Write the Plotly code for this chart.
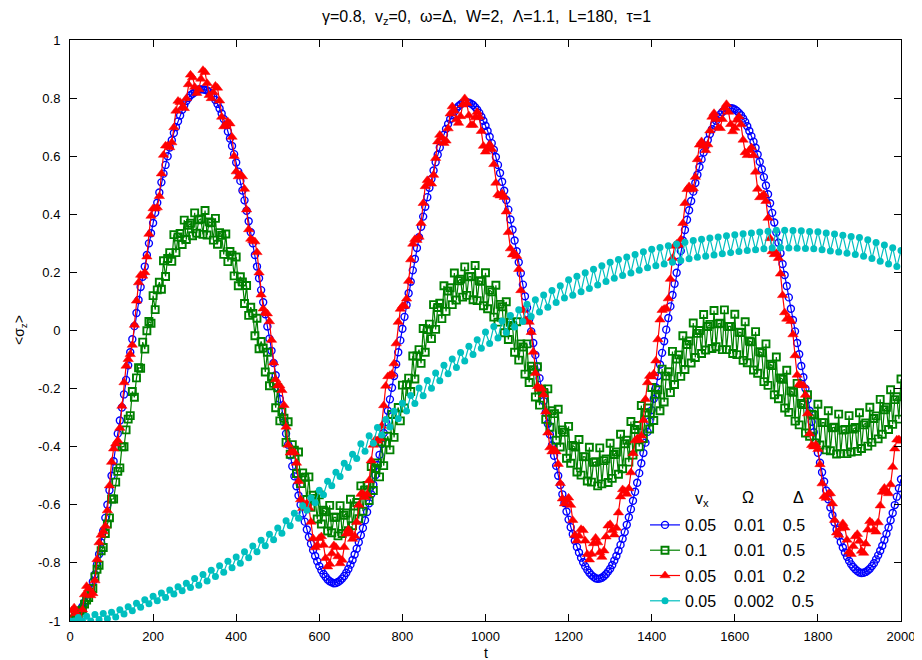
import plotly.graph_objects as go

# sampling grids (t)
T5 = list(range(0, 2001, 5))
T10 = list(range(0, 2001, 10))

# <sigma_z> for vx=0.05, Omega=0.01, Delta=0.5 (blue circles)
BLUE = [
    -1.000, -0.998, -0.99, -0.98, -0.97, -0.96, -0.95, -0.935, -0.92, -0.905,
    -0.89, -0.865, -0.84, -0.805, -0.77, -0.73, -0.69, -0.645, -0.60, -0.55,
    -0.50, -0.45, -0.40, -0.355, -0.31, -0.265, -0.22, -0.17, -0.12, -0.075,
    -0.03, 0.015, 0.06, 0.105, 0.15, 0.185, 0.22, 0.26, 0.30, 0.335,
    0.37, 0.405, 0.44, 0.475, 0.51, 0.54, 0.57, 0.60, 0.63, 0.655,
    0.68, 0.70, 0.72, 0.74, 0.76, 0.775, 0.79, 0.80, 0.81, 0.815,
    0.82, 0.825, 0.83, 0.83,
    0.83, 0.829, 0.826, 0.821, 0.813, 0.804, 0.793, 0.780, 0.764, 0.747,
    0.728, 0.708, 0.685, 0.661, 0.635, 0.607, 0.578, 0.547, 0.515, 0.482,
    0.448, 0.412, 0.376, 0.338, 0.300, 0.260, 0.220, 0.180, 0.139, 0.097,
    0.056, 0.014, -0.028, -0.070, -0.112, -0.154, -0.195, -0.236, -0.276, -0.316,
    -0.355, -0.393, -0.430, -0.467, -0.502, -0.536, -0.568, -0.600, -0.630, -0.658,
    -0.685, -0.711, -0.734, -0.756, -0.776, -0.794, -0.811, -0.825, -0.838, -0.848,
    -0.857, -0.863, -0.867, -0.870,
    -0.869, -0.866, -0.861, -0.854, -0.845, -0.834, -0.821, -0.806, -0.790, -0.771,
    -0.751, -0.729, -0.705, -0.680, -0.653, -0.625, -0.595, -0.564, -0.531, -0.498,
    -0.463, -0.428, -0.391, -0.353, -0.315, -0.276, -0.237, -0.197, -0.157, -0.116,
    -0.075, -0.034, 0.006, 0.047, 0.088, 0.128, 0.168, 0.207, 0.246, 0.284,
    0.321, 0.357, 0.392, 0.426, 0.459, 0.491, 0.522, 0.551, 0.579, 0.605,
    0.630, 0.653, 0.674, 0.694, 0.711, 0.727, 0.741, 0.754, 0.764, 0.772,
    0.778, 0.783, 0.785, 0.785,
    0.784, 0.781, 0.776, 0.769, 0.760, 0.749, 0.736, 0.722, 0.705, 0.687,
    0.667, 0.645, 0.622, 0.597, 0.570, 0.542, 0.512, 0.481, 0.449, 0.416,
    0.382, 0.347, 0.310, 0.273, 0.235, 0.197, 0.158, 0.118, 0.078, 0.038,
    -0.003, -0.043, -0.084, -0.124, -0.164, -0.204, -0.243, -0.282, -0.321, -0.358,
    -0.395, -0.431, -0.466, -0.500, -0.532, -0.564, -0.594, -0.623, -0.651, -0.677,
    -0.701, -0.724, -0.745, -0.764, -0.782, -0.798, -0.812, -0.824, -0.834, -0.842,
    -0.848, -0.853, -0.855,
    -0.854, -0.851, -0.846, -0.839, -0.830, -0.820, -0.807, -0.792, -0.776, -0.758,
    -0.738, -0.717, -0.694, -0.669, -0.643, -0.615, -0.586, -0.555, -0.524, -0.491,
    -0.457, -0.422, -0.386, -0.349, -0.312, -0.274, -0.235, -0.196, -0.157, -0.117,
    -0.077, -0.037, 0.003, 0.043, 0.083, 0.122, 0.161, 0.199, 0.237, 0.274,
    0.310, 0.346, 0.381, 0.414, 0.446, 0.478, 0.508, 0.536, 0.563, 0.589,
    0.613, 0.636, 0.656, 0.676, 0.693, 0.708, 0.722, 0.734, 0.744, 0.752,
    0.758, 0.763, 0.765, 0.765,
    0.764, 0.761, 0.756, 0.749, 0.741, 0.730, 0.718, 0.703, 0.687, 0.669,
    0.650, 0.629, 0.606, 0.581, 0.555, 0.528, 0.499, 0.469, 0.438, 0.405,
    0.372, 0.337, 0.302, 0.266, 0.229, 0.191, 0.153, 0.114, 0.075, 0.036,
    -0.003, -0.043, -0.082, -0.122, -0.161, -0.200, -0.238, -0.276, -0.314, -0.350,
    -0.386, -0.421, -0.455, -0.488, -0.520, -0.551, -0.581, -0.609, -0.636, -0.661,
    -0.685, -0.707, -0.728, -0.747, -0.764, -0.779, -0.793, -0.805, -0.814, -0.822,
    -0.828, -0.833, -0.835,
    -0.834, -0.831, -0.826, -0.820, -0.811, -0.801, -0.788, -0.774, -0.758, -0.741,
    -0.721, -0.700, -0.678, -0.653, -0.628, -0.601, -0.572, -0.543, -0.512,
]

# vx=0.1, Omega=0.01, Delta=0.5 (green squares)
GREEN = [
    -1.000, -0.999, -0.993, -0.986, -0.984, -0.965, -0.962, -0.942, -0.928, -0.919,
    -0.888, -0.888, -0.848, -0.822, -0.808, -0.758, -0.747, -0.699, -0.666, -0.645,
    -0.580, -0.580, -0.522, -0.485, -0.473, -0.400, -0.400, -0.342, -0.305, -0.293,
    -0.210, -0.230, -0.163, -0.128, -0.130, -0.040, -0.064, -0.001, 0.031, 0.025,
    0.120, 0.072, 0.140, 0.166, 0.142, 0.240, 0.186, 0.248, 0.268, 0.238,
    0.330, 0.268, 0.322, 0.334, 0.296, 0.380, 0.313, 0.362, 0.369, 0.326,
    0.405, 0.335, 0.381, 0.384,
    0.331, 0.413, 0.329, 0.374, 0.371, 0.311, 0.386, 0.297, 0.337, 0.328,
    0.262, 0.332, 0.237, 0.272, 0.259, 0.188, 0.253, 0.154, 0.185, 0.167,
    0.093, 0.155, 0.052, 0.080, 0.059, -0.018, 0.042, -0.063, -0.038, -0.060,
    -0.143, -0.075, -0.190, -0.159, -0.182, -0.266, -0.197, -0.311, -0.280, -0.302,
    -0.385, -0.314, -0.426, -0.393, -0.412, -0.492, -0.418, -0.527, -0.490, -0.505,
    -0.582, -0.504, -0.609, -0.567, -0.578, -0.649, -0.566, -0.666, -0.619, -0.624,
    -0.690, -0.602, -0.696, -0.643, -0.643,
    -0.707, -0.603, -0.699, -0.636, -0.628, -0.689, -0.581, -0.672, -0.604, -0.592,
    -0.648, -0.535, -0.622, -0.549, -0.533, -0.585, -0.468, -0.551, -0.475, -0.456,
    -0.504, -0.384, -0.465, -0.387, -0.364, -0.411, -0.289, -0.368, -0.288, -0.265,
    -0.311, -0.188, -0.267, -0.187, -0.164, -0.210, -0.088, -0.167, -0.088, -0.066,
    -0.113, 0.007, -0.075, 0.003, 0.022, -0.028, 0.089, 0.004, 0.079, 0.094,
    0.041, 0.154, 0.066, 0.136, 0.147, 0.089, 0.198, 0.105, 0.171, 0.177,
    0.115, 0.219, 0.121,
    0.185, 0.186, 0.106, 0.224, 0.103, 0.171, 0.169, 0.085, 0.199, 0.075,
    0.139, 0.133, 0.046, 0.156, 0.029, 0.090, 0.082, -0.008, 0.099, -0.031,
    0.028, 0.017, -0.075, 0.030, -0.102, -0.046, -0.057, -0.150, -0.046, -0.179,
    -0.123, -0.135, -0.229, -0.125, -0.257, -0.202, -0.213, -0.306, -0.201, -0.333,
    -0.276, -0.286, -0.378, -0.271, -0.401, -0.342, -0.350, -0.440, -0.330, -0.457,
    -0.396, -0.401, -0.487, -0.375, -0.498, -0.434, -0.435, -0.518, -0.402, -0.522,
    -0.454, -0.452,
    -0.535, -0.404, -0.528, -0.448, -0.442, -0.523, -0.388, -0.509, -0.427, -0.418,
    -0.495, -0.357, -0.476, -0.390, -0.378, -0.453, -0.313, -0.429, -0.341, -0.327,
    -0.400, -0.258, -0.372, -0.283, -0.267, -0.339, -0.196, -0.310, -0.220, -0.204,
    -0.276, -0.133, -0.246, -0.157, -0.142, -0.214, -0.072, -0.186, -0.098, -0.084,
    -0.158, -0.018, -0.134, -0.048, -0.036, -0.112, 0.026, -0.093, -0.010, 0.000,
    -0.079, 0.055, -0.067, 0.014, 0.021, -0.062, 0.069, -0.056,
    0.023, 0.025, -0.066, 0.071, -0.066, 0.014, 0.014, -0.079, 0.056, -0.083,
    -0.006, -0.007, -0.103, 0.030, -0.111, -0.036, -0.039, -0.136, -0.004, -0.147,
    -0.073, -0.077, -0.176, -0.046, -0.189, -0.116, -0.121, -0.221, -0.091, -0.235,
    -0.163, -0.168, -0.267, -0.137, -0.282, -0.208, -0.213, -0.312, -0.182, -0.325,
    -0.251, -0.255, -0.353, -0.221, -0.364, -0.288, -0.291, -0.387, -0.254, -0.394,
    -0.317, -0.317, -0.411, -0.276, -0.414, -0.335, -0.333, -0.425, -0.288, -0.424,
    -0.343,
    -0.341, -0.424, -0.293, -0.418, -0.339, -0.334, -0.416, -0.283, -0.406, -0.325,
    -0.318, -0.398, -0.264, -0.385, -0.303, -0.294, -0.373, -0.237, -0.357, -0.273,
    -0.264, -0.341, -0.204, -0.323, -0.238, -0.228, -0.305, -0.167,
]

# vx=0.05, Omega=0.01, Delta=0.2 (red triangles)
RED = [
    -1.000, -0.964, -0.954, -0.974, -0.995, -0.995, -0.961, -0.909, -0.880, -0.889,
    -0.912, -0.905, -0.861, -0.788, -0.730, -0.704, -0.692, -0.673, -0.620, -0.534,
    -0.453, -0.407, -0.390, -0.379, -0.336, -0.260, -0.179, -0.122, -0.099, -0.082,
    -0.050, 0.019, 0.102, 0.165, 0.191, 0.188, 0.200, 0.254, 0.332, 0.394,
    0.420, 0.419, 0.423, 0.462, 0.540, 0.604, 0.636, 0.636, 0.630, 0.647,
    0.699, 0.756, 0.790, 0.786, 0.768, 0.765, 0.799, 0.847, 0.880, 0.871,
    0.838, 0.817, 0.830,
    0.866, 0.896, 0.889, 0.851, 0.810, 0.799, 0.819, 0.842, 0.835, 0.791,
    0.735, 0.702, 0.704, 0.719, 0.712, 0.666, 0.600, 0.547, 0.530, 0.536,
    0.530, 0.487, 0.416, 0.348, 0.315, 0.310, 0.306, 0.269, 0.199, 0.123,
    0.075, 0.061, 0.058, 0.031, -0.033, -0.111, -0.169, -0.189, -0.190, -0.206,
    -0.257, -0.332, -0.394, -0.421, -0.419, -0.420, -0.456, -0.519, -0.582, -0.612,
    -0.607, -0.595, -0.611, -0.659, -0.716, -0.747, -0.739, -0.715, -0.709, -0.738,
    -0.784, -0.813, -0.804, -0.768,
    -0.740, -0.746, -0.778, -0.802, -0.790, -0.746, -0.700, -0.685, -0.699, -0.718,
    -0.707, -0.660, -0.601, -0.563, -0.562, -0.574, -0.564, -0.516, -0.448, -0.394,
    -0.376, -0.380, -0.372, -0.329, -0.258, -0.191, -0.158, -0.154, -0.150, -0.114,
    -0.045, 0.029, 0.074, 0.084, 0.084, 0.109, 0.170, 0.244, 0.298, 0.314,
    0.311, 0.322, 0.369, 0.438, 0.496, 0.517, 0.509, 0.505, 0.535, 0.593,
    0.650, 0.673, 0.663, 0.645, 0.653, 0.695, 0.746, 0.771, 0.756, 0.726,
    0.714, 0.737, 0.777,
    0.799, 0.782, 0.740, 0.707, 0.707, 0.733, 0.752, 0.735, 0.686, 0.635,
    0.615, 0.626, 0.640, 0.624, 0.572, 0.508, 0.468, 0.464, 0.472, 0.459,
    0.409, 0.338, 0.282, 0.261, 0.264, 0.256, 0.211, 0.138, 0.070, 0.037,
    0.033, 0.029, -0.006, -0.074, -0.147, -0.192, -0.201, -0.200, -0.221, -0.280,
    -0.352, -0.403, -0.417, -0.410, -0.417, -0.460, -0.526, -0.579, -0.596, -0.584,
    -0.576, -0.601, -0.653, -0.705, -0.724, -0.707, -0.684, -0.688, -0.724, -0.770,
    -0.789, -0.769, -0.733,
    -0.714, -0.730, -0.764, -0.780, -0.758, -0.710, -0.672, -0.667, -0.688, -0.703,
    -0.680, -0.627, -0.572, -0.547, -0.553, -0.563, -0.544, -0.489, -0.423, -0.379,
    -0.372, -0.377, -0.362, -0.309, -0.237, -0.179, -0.157, -0.159, -0.149, -0.104,
    -0.031, 0.037, 0.070, 0.074, 0.076, 0.110, 0.177, 0.249, 0.291, 0.298,
    0.294, 0.313, 0.369, 0.438, 0.486, 0.496, 0.485, 0.489, 0.528, 0.589,
    0.639, 0.651, 0.634, 0.620, 0.640, 0.688, 0.735, 0.748, 0.727, 0.698,
    0.696, 0.727, 0.766,
    0.779, 0.752, 0.710, 0.685, 0.697, 0.725, 0.736, 0.709, 0.656, 0.613,
    0.603, 0.620, 0.630, 0.603, 0.546, 0.487, 0.458, 0.461, 0.468, 0.445,
    0.387, 0.317, 0.272, 0.262, 0.266, 0.249, 0.195, 0.121, 0.062, 0.040,
    0.041, 0.032, -0.014, -0.086, -0.153, -0.185, -0.188, -0.189, -0.222, -0.286,
    -0.355, -0.395, -0.400, -0.393, -0.409, -0.461, -0.527, -0.571, -0.577, -0.562,
    -0.561, -0.596, -0.653, -0.696, -0.704, -0.682, -0.664, -0.679, -0.721, -0.762,
    -0.770, -0.743, -0.709,
    -0.701, -0.725, -0.759, -0.766, -0.734, -0.686, -0.657, -0.663, -0.686, -0.693,
    -0.661, -0.603, -0.556, -0.542, -0.555, -0.561, -0.530, -0.470, -0.407, -0.376,
    -0.375, -0.380,
]

# vx=0.05, Omega=0.002, Delta=0.5 (cyan dots), sampled every 10
CYAN = [
    -1.000, -1.000, -0.988, -1.000, -0.984, -1.000, -0.978, -0.995, -0.974, -0.992,
    -0.970, -0.986, -0.961, -0.976, -0.951, -0.965, -0.939, -0.953, -0.927, -0.941,
    -0.915, -0.930, -0.904, -0.919, -0.893, -0.907, -0.882, -0.896, -0.870, -0.885,
    -0.854, -0.877, -0.840, -0.862, -0.825, -0.847, -0.810, -0.832, -0.794, -0.817,
    -0.780, -0.801, -0.762, -0.782, -0.742, -0.762, -0.722, -0.741, -0.701, -0.720,
    -0.680, -0.698, -0.655, -0.672, -0.629, -0.646, -0.603, -0.619, -0.576, -0.593,
    -0.550, -0.565, -0.519, -0.534, -0.488, -0.503, -0.457, -0.472, -0.426, -0.441,
    -0.390, -0.416, -0.362, -0.388, -0.334, -0.360, -0.306, -0.332, -0.278, -0.304,
    -0.250, -0.277, -0.224, -0.251, -0.198, -0.225, -0.172, -0.199, -0.146, -0.173,
    -0.120, -0.149, -0.098, -0.127, -0.076, -0.105, -0.054, -0.083, -0.032, -0.061,
    -0.005, -0.045, 0.014, -0.026, 0.033, -0.007, 0.052, 0.012, 0.071, 0.031,
    0.090, 0.048, 0.106, 0.064, 0.122, 0.080, 0.138, 0.096, 0.154, 0.112,
    0.175, 0.121, 0.187, 0.133, 0.199, 0.145, 0.211, 0.157, 0.223, 0.169,
    0.235, 0.180, 0.244, 0.189, 0.253, 0.198, 0.262, 0.207, 0.271, 0.216,
    0.280, 0.223, 0.286, 0.229, 0.292, 0.235, 0.298, 0.241, 0.304, 0.247,
    0.310, 0.252, 0.314, 0.256, 0.318, 0.260, 0.322, 0.264, 0.326, 0.268,
    0.330, 0.272, 0.333, 0.275, 0.336, 0.278, 0.339, 0.281, 0.342, 0.284,
    0.345, 0.285, 0.345, 0.284, 0.344, 0.283, 0.343, 0.282, 0.341, 0.281,
    0.340, 0.278, 0.336, 0.274, 0.332, 0.270, 0.328, 0.266, 0.324, 0.262,
    0.320, 0.256, 0.312, 0.248, 0.303, 0.238, 0.294, 0.229, 0.285, 0.220,
    0.275,
]

for name, arr, grid in (("BLUE", BLUE, T5), ("GREEN", GREEN, T5), ("RED", RED, T5), ("CYAN", CYAN, T10)):
    if len(arr) != len(grid):
        raise ValueError(f"{name}: {len(arr)} values vs {len(grid)} t")

NB = "\u00a0"
LEGEND_TEXT = [
    "0.05" + NB * 4 + "0.01" + NB * 4 + "0.5",
    "0.1" + NB * 6 + "0.01" + NB * 4 + "0.5",
    "0.05" + NB * 4 + "0.01" + NB * 4 + "0.2",
    "0.05" + NB * 4 + "0.002" + NB * 4 + "0.5",
]
TITLE = ("γ=0.8," + NB + " v<sub>z</sub>=0," + NB + " ω=Δ," + NB + " W=2," + NB
         + " Λ=1.1," + NB + " L=180," + NB + " τ=1")
X_TICKS = [0, 200, 400, 600, 800, 1000, 1200, 1400, 1600, 1800, 2000]
Y_TICKS = [-1, -0.8, -0.6, -0.4, -0.2, 0, 0.2, 0.4, 0.6, 0.8, 1]
Y_TICK_TEXT = ["-1", "-0.8", "-0.6", "-0.4", "-0.2", "0", "0.2", "0.4", "0.6", "0.8", "1"]

FONT = "Liberation Sans, Arial, Helvetica, sans-serif"

fig = go.Figure()
fig.add_trace(go.Scatter(
    x=T5, y=BLUE, mode="lines+markers", name=LEGEND_TEXT[0], legendgroup="a",
    line=dict(color="#0000ff", width=1.2),
    marker=dict(symbol="circle-open", size=7, color="#0000ff", line=dict(width=1.4, color="#0000ff")),
))
fig.add_trace(go.Scatter(
    x=T5, y=GREEN, mode="lines+markers", name=LEGEND_TEXT[1], legendgroup="b",
    line=dict(color="#008000", width=1.2),
    marker=dict(symbol="square-open", size=7, color="#008000", line=dict(width=1.9, color="#008000")),
))
fig.add_trace(go.Scatter(
    x=T5, y=RED, mode="lines+markers", name=LEGEND_TEXT[2], legendgroup="c",
    line=dict(color="#ff0000", width=1.2),
    marker=dict(symbol="triangle-up", size=9, color="#ff0000", line=dict(width=0.5, color="#ff0000")),
))
fig.add_trace(go.Scatter(
    x=T10, y=CYAN, mode="lines+markers", name=LEGEND_TEXT[3], legendgroup="d",
    line=dict(color="#00bfbf", width=1.2),
    marker=dict(symbol="circle", size=7, color="#00bfbf"),
))

# the page body adds an 8 px offset, so the figure is 8 px smaller and margins shifted
OFF = 8
W, H = 922 - OFF, 660 - OFF
PL, PR, PT, PB = 70, 901, 40, 621          # plot area in screenshot pixels
L, T = PL - OFF, PT - OFF
R, B = (W + OFF) - PR, (H + OFF) - PB
pw, ph = PR - PL, PB - PT


def px(xs):
    return (xs - PL) / pw


def py(ys):
    return (PB - ys) / ph


annotations = [
    dict(text=TITLE, x=px(486), y=py(18), xref="paper", yref="paper", showarrow=False,
         xanchor="center", yanchor="middle", font=dict(size=16, family=FONT, color="black")),
    dict(text="t", x=px(486), y=py(653), xref="paper", yref="paper", showarrow=False,
         xanchor="center", yanchor="middle", font=dict(size=14, family=FONT, color="black")),
    dict(text="&lt;σ<sub>z</sub>&gt;", x=px(20), y=py(330), xref="paper", yref="paper",
         showarrow=False, textangle=-90, xanchor="center", yanchor="middle",
         font=dict(size=14, family=FONT, color="black")),
    dict(text="v<sub>x</sub>", x=px(702), y=py(499), xref="paper", yref="paper", showarrow=False,
         xanchor="center", yanchor="middle", font=dict(size=16, family=FONT, color="black")),
    dict(text="Ω", x=px(748), y=py(497), xref="paper", yref="paper", showarrow=False,
         xanchor="center", yanchor="middle", font=dict(size=16, family=FONT, color="black")),
    dict(text="Δ", x=px(798), y=py(497), xref="paper", yref="paper", showarrow=False,
         xanchor="center", yanchor="middle", font=dict(size=16, family=FONT, color="black")),
]

fig.update_layout(
    width=W, height=H,
    margin=dict(l=L, r=R, t=T, b=B, autoexpand=False),
    paper_bgcolor="white", plot_bgcolor="white",
    font=dict(family=FONT, size=13, color="black"),
    showlegend=True,
    legend=dict(
        x=px(645), y=py(508), xanchor="left", yanchor="top",
        bgcolor="rgba(0,0,0,0)", borderwidth=0,
        font=dict(size=16, family=FONT, color="black"),
        traceorder="grouped", tracegroupgap=1.5, itemwidth=30,
    ),
    annotations=annotations,
    xaxis=dict(
        range=[0, 2000], tickvals=X_TICKS, ticktext=[str(v) for v in X_TICKS],
        ticks="inside", ticklen=7, tickwidth=1, tickcolor="black",
        showline=True, linecolor="black", linewidth=1, mirror="ticks",
        showgrid=False, zeroline=False, ticklabelstandoff=3,
        tickfont=dict(size=13, family=FONT, color="black"),
    ),
    yaxis=dict(
        range=[-1, 1], tickvals=Y_TICKS, ticktext=Y_TICK_TEXT,
        ticks="inside", ticklen=7, tickwidth=1, tickcolor="black",
        showline=True, linecolor="black", linewidth=1, mirror="ticks",
        showgrid=False, zeroline=False, ticklabelstandoff=6,
        tickfont=dict(size=13, family=FONT, color="black"),
    ),
)

fig.write_html("out.html")
